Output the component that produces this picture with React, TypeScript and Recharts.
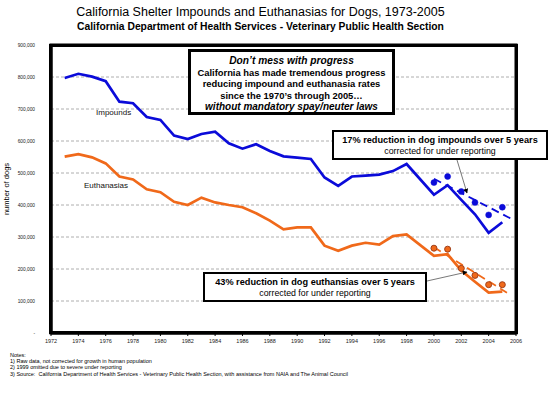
import React from 'react';
import {
  ComposedChart, Line, XAxis, YAxis, CartesianGrid, ReferenceArea,
} from 'recharts';

const years = [
  1973, 1974, 1975, 1976, 1977, 1978, 1979, 1980, 1981, 1982,
  1983, 1984, 1985, 1986, 1987, 1988, 1989, 1990, 1991, 1992,
  1993, 1994, 1995, 1996, 1997, 1998, 2000, 2001, 2002, 2003, 2004, 2005,
];
const impounds = [
  797000, 810000, 801000, 787000, 723000, 718000, 675000, 666000, 617000, 606000,
  622000, 629000, 593000, 576000, 590000, 569000, 552000, 548000, 544000, 486000,
  460000, 489000, 492000, 495000, 506000, 528000, 432000, 462000, 416000, 371000, 313000, 346000,
];
const euthanasias = [
  551000, 559000, 549000, 530000, 489000, 480000, 449000, 440000, 410000, 400000,
  423000, 408000, 400000, 393000, 374000, 351000, 324000, 330000, 330000, 273000,
  257000, 273000, 282000, 276000, 303000, 308000, 241000, 246000, 195000, 160000, 126000, 129000,
];
const correctedYears = [2000, 2001, 2002, 2003, 2004, 2005];
const impoundsCorrected = [470000, 489000, 442000, 408000, 369000, 393000];
const euthanasiasCorrected = [265000, 262000, 202000, 180000, 151000, 151000];
const trendYears = [2000, 2005.6];
const impoundsTrend = [482000, 358000];
const euthanasiasTrend = [268000, 119000];
const xTicks = [1972, 1974, 1976, 1978, 1980, 1982, 1984, 1986, 1988, 1990, 1992, 1994, 1996, 1998, 2000, 2002, 2004, 2006];
const yTicks = [0, 100000, 200000, 300000, 400000, 500000, 600000, 700000, 800000, 900000];

const mainData = years.map((y, i) => ({ year: y, impounds: impounds[i], euthanasias: euthanasias[i] }));
const corrData = correctedYears.map((y, i) => ({ year: y, impC: impoundsCorrected[i], euthC: euthanasiasCorrected[i] }));
const impTrendData = trendYears.map((y, i) => ({ year: y, v: impoundsTrend[i] }));
const euthTrendData = trendYears.map((y, i) => ({ year: y, v: euthanasiasTrend[i] }));

const BLUE = '#0b0bd9';
const ORANGE = '#f0691a';
const FONT = '"Liberation Sans", Arial, sans-serif';

const boxStyle: React.CSSProperties = {
  position: 'absolute',
  background: '#fff',
  border: '2px solid #000',
  boxSizing: 'border-box',
  textAlign: 'center',
  fontFamily: FONT,
  color: '#000',
};

const edge = (left: number, top: number, width: number, height: number): React.CSSProperties => ({
  position: 'absolute', left, top, width, height, background: '#000', zIndex: 5,
});

export default function App() {
  return (
    <div style={{ position: 'absolute', left: 0, top: 0, width: 550, height: 395, background: '#fff', fontFamily: FONT }}>
      <div style={{ position: 'absolute', left: 0, top: 5, width: 521, textAlign: 'center', fontSize: 12.5, lineHeight: '15px', color: '#000' }}>
        California Shelter Impounds and Euthanasias for Dogs, 1973-2005
      </div>
      <div style={{ position: 'absolute', left: 0, top: 20, width: 521, textAlign: 'center', fontSize: 10.3, fontWeight: 'bold', lineHeight: '13px', color: '#000' }}>
        California Department of Health Services - Veterinary Public Health Section
      </div>
      <div style={{ position: 'absolute', left: 0, top: 0 }}>
        <ComposedChart
          width={550}
          height={395}
          margin={{ top: 45, right: 34, bottom: 42, left: 0 }}
        >
          <CartesianGrid vertical={false} stroke="#9a9a9a" strokeDasharray="3 2" strokeWidth={0.8} />
          <XAxis
            dataKey="year"
            type="number"
            domain={[1972, 2006]}
            ticks={xTicks}
            allowDataOverflow
            axisLine={{ stroke: '#000', strokeWidth: 3 }}
            tickLine={{ stroke: '#000', strokeWidth: 1 }}
            tickSize={3}
            tickMargin={3}
            height={20}
            tick={{ fontSize: 5.5, fill: '#222', fontFamily: FONT }}
          />
          <YAxis
            type="number"
            domain={[0, 900000]}
            ticks={yTicks}
            width={51}
            axisLine={{ stroke: '#000', strokeWidth: 3 }}
            tickLine={false}
            tickSize={0}
            tickMargin={16}
            tick={{ fontSize: 4.8, fill: '#222', fontFamily: FONT }}
            tickFormatter={(v: number) => (v === 0 ? '-' : v.toLocaleString('en-US'))}
          />
          <ReferenceArea x1={1972} x2={2006} y1={0} y2={900000} fill="#ffffff" fillOpacity={0} stroke="#000000" strokeWidth={3} />
          <Line data={mainData} dataKey="impounds" stroke={BLUE} strokeWidth={2.7} dot={false} isAnimationActive={false} />
          <Line data={mainData} dataKey="euthanasias" stroke={ORANGE} strokeWidth={2.7} dot={false} isAnimationActive={false} />
          <Line data={impTrendData} dataKey="v" stroke={BLUE} strokeWidth={1.8} strokeDasharray="8 5" dot={false} isAnimationActive={false} />
          <Line data={euthTrendData} dataKey="v" stroke={ORANGE} strokeWidth={1.8} strokeDasharray="8 5" dot={false} isAnimationActive={false} />
          <Line data={corrData} dataKey="impC" stroke="none" dot={{ r: 3, fill: BLUE, stroke: BLUE, strokeWidth: 0.5 }} isAnimationActive={false} />
          <Line data={corrData} dataKey="euthC" stroke="none" dot={{ r: 3, fill: ORANGE, stroke: '#a0401a', strokeWidth: 1 }} isAnimationActive={false} />
        </ComposedChart>
      </div>

      <div style={edge(49, 44, 469, 3)} />
      <div style={edge(49, 331, 469, 3)} />
      <div style={edge(49, 44, 3, 290)} />
      <div style={edge(515, 44, 3, 290)} />

      <svg width={550} height={395} style={{ position: 'absolute', left: 0, top: 0, pointerEvents: 'none', zIndex: 6 }}>
        <defs>
          <marker id="arr" viewBox="0 0 10 10" refX="9" refY="5" markerWidth="6" markerHeight="6" orient="auto">
            <path d="M0,0 L10,5 L0,10 z" fill="#000" />
          </marker>
        </defs>
        <line x1={457} y1={160} x2={467} y2={193} stroke="#555" strokeWidth={0.8} markerEnd="url(#arr)" />
        <line x1={427} y1={281} x2={467} y2={272} stroke="#555" strokeWidth={0.8} markerEnd="url(#arr)" />
      </svg>

      <div style={{ position: 'absolute', left: -33, top: 184, width: 80, textAlign: 'center', fontSize: 7.5, lineHeight: '10px', color: '#000', transform: 'rotate(-90deg)' }}>
        number of dogs
      </div>

      <div style={{ position: 'absolute', left: 96, top: 108, fontSize: 8, color: '#111', zIndex: 7 }}>Impounds</div>
      <div style={{ position: 'absolute', left: 84, top: 181, fontSize: 8, color: '#111', zIndex: 7 }}>Euthanasias</div>

      <div style={{ ...boxStyle, zIndex: 7, left: 188, top: 49, width: 207, height: 66, border: '3px solid #000', fontSize: 9.4, fontWeight: 'bold', lineHeight: '11.5px', paddingTop: 3 }}>
        <div style={{ fontStyle: 'italic', fontSize: 10.2 }}>Don’t mess with progress</div>
        <div>California has made tremendous progress</div>
        <div>reducing impound and euthanasia rates</div>
        <div>since the 1970’s through 2005…</div>
        <div style={{ fontStyle: 'italic', fontSize: 10 }}>without mandatory spay/neuter laws</div>
      </div>

      <div style={{ ...boxStyle, zIndex: 7, left: 332, top: 130, width: 216, height: 30, paddingTop: 3, lineHeight: '11px' }}>
        <div style={{ fontSize: 9.2, fontWeight: 'bold' }}>17% reduction in dog impounds over 5 years</div>
        <div style={{ fontSize: 8.8 }}>corrected for under reporting</div>
      </div>

      <div style={{ ...boxStyle, zIndex: 7, left: 203, top: 272, width: 224, height: 30, paddingTop: 3, lineHeight: '11px' }}>
        <div style={{ fontSize: 9.2, fontWeight: 'bold' }}>43% reduction in dog euthansias over 5 years</div>
        <div style={{ fontSize: 8.8 }}>corrected for under reporting</div>
      </div>

      <div style={{ position: 'absolute', left: 10, top: 352, fontSize: 5.5, lineHeight: '6.2px', color: '#000' }}>
        <div>Notes:</div>
        <div>1) Raw data, not corrected for growth in human population</div>
        <div>2) 1999 omitted due to severe under reporting</div>
        <div>3) Source:&nbsp; California Department of Health Services - Veterinary Public Health Section, with assistance from NAIA and The Animal Council</div>
      </div>
    </div>
  );
}
